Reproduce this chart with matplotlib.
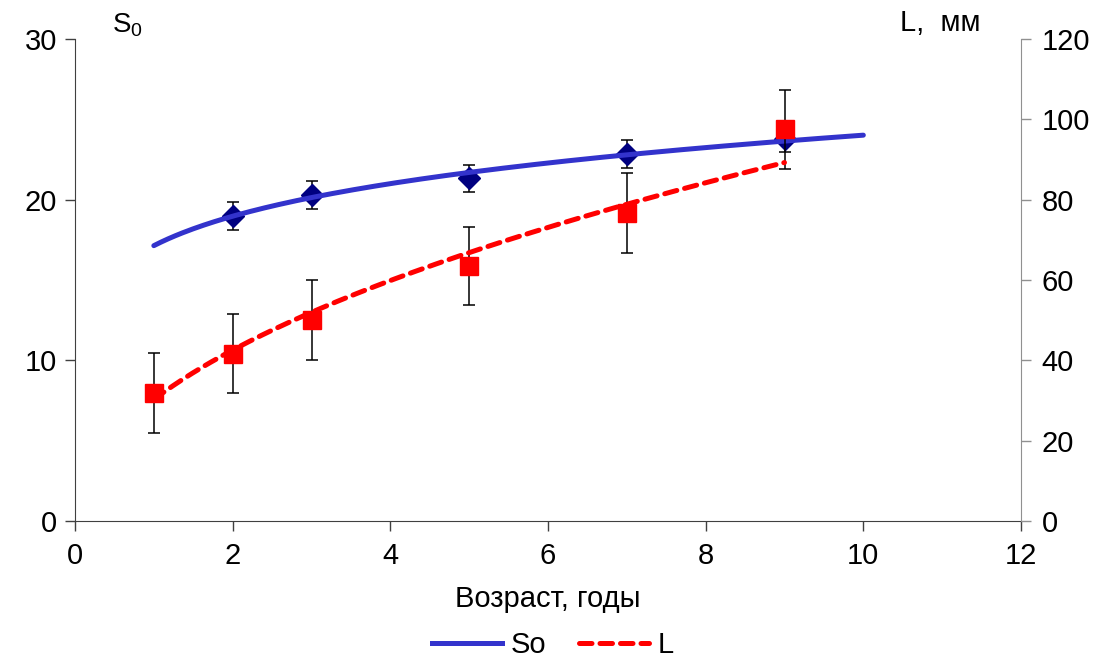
import numpy as np
import matplotlib
matplotlib.use("Agg")
import matplotlib.pyplot as plt
from matplotlib.lines import Line2D

plt.rcParams['font.family'] = ['Liberation Sans', 'DejaVu Sans']
plt.rcParams['mathtext.fontset'] = 'custom'
plt.rcParams['mathtext.rm'] = 'Liberation Sans'

# Data
so_age = [2, 3, 5, 7, 9]
so_val = [18.98, 20.29, 21.33, 22.84, 23.8]
so_err = [0.87, 0.86, 0.83, 0.85, 0.85]

l_age = [1, 2, 3, 5, 7, 9]
l_val = [31.8, 41.7, 50.0, 63.5, 76.6, 97.5]   # mm
l_err = [10.0, 9.8, 9.9, 9.8, 10.0, 9.8]

x_ticks = [0, 2, 4, 6, 8, 10, 12]
left_ticks = [0, 10, 20, 30]
right_ticks = [0, 20, 40, 60, 80, 100, 120]

# power trend lines (as Excel does)
def power_fit(x, y):
    b, lna = np.polyfit(np.log(x), np.log(y), 1)
    return np.exp(lna), b

so_a, so_b = power_fit(so_age, so_val)
l_a, l_b = power_fit(l_age, l_val)
so_tx = np.linspace(1, 10, 200)
l_tx = np.linspace(1, 9, 200)

fig = plt.figure(figsize=(11.11, 6.59), dpi=100)
ax = fig.add_axes([75/1111, 1-521/659, (1021-75)/1111, (521-39)/659])
ax2 = ax.twinx()

ax.set_xlim(0, 12)
ax.set_ylim(0, 30)
ax2.set_ylim(0, 120)

# left series
ax.errorbar(so_age, so_val, yerr=so_err, fmt='none', ecolor='black',
            elinewidth=1.1, capsize=4.5, capthick=1.1, zorder=2)
ax.plot(so_age, so_val, linestyle='none', marker='D', markersize=11,
        color='#000080', zorder=3)
ax.plot(so_tx, so_a * so_tx ** so_b, color='#3333CC', lw=3.6,
        solid_capstyle='round', zorder=4)

# right series
ax2.errorbar(l_age, l_val, yerr=l_err, fmt='none', ecolor='black',
             elinewidth=1.1, capsize=4.5, capthick=1.1, zorder=2)
ax2.plot(l_age, l_val, linestyle='none', marker='s', markersize=13.5,
         color='#FF0000', zorder=3)
ax2.plot(l_tx, l_a * l_tx ** l_b, color='#FF0000', lw=3.6,
         linestyle=(0, (2.5, 1.6)), dash_capstyle='round', zorder=4)

# axes styling
for a in (ax, ax2):
    a.spines['top'].set_visible(False)
ax.spines['right'].set_visible(False)
ax2.spines['left'].set_visible(False)
ax2.spines['bottom'].set_visible(False)
ax.spines['left'].set_color('#404040')
ax.spines['bottom'].set_color('#404040')
ax2.spines['right'].set_color('#909090')

ax.set_xticks(x_ticks)
ax.set_yticks(left_ticks)
ax2.set_yticks(right_ticks)
ax.tick_params(axis='both', direction='out', length=7, width=1.0,
               color='#404040', labelsize=21, pad=6)
ax.tick_params(axis='x', pad=8)
ax2.tick_params(axis='y', direction='out', length=7, width=1.0,
                color='#909090', labelsize=21, pad=8)

ax.set_xlabel('Возраст, годы', fontsize=21, labelpad=11)
fig.text(112/1111, 1-25/659, r'S$_\mathregular{0}$', fontsize=20,
         ha='left', va='center')
fig.text(900/1111, 1-23/659, 'L,  мм', fontsize=21, ha='left', va='center')

handles = [Line2D([], [], color='#3333CC', lw=3.6),
           Line2D([], [], color='#FF0000', lw=3.6, linestyle=(0, (2.5, 1.6)),
                  dash_capstyle='round')]
fig.legend(handles, ['So', 'L'], loc='center', bbox_to_anchor=(553/1111, 1-645/659),
           ncol=2, frameon=False, fontsize=21, handlelength=2.4,
           columnspacing=1.1, handletextpad=0.3)

fig.savefig('out.png', dpi=100)
